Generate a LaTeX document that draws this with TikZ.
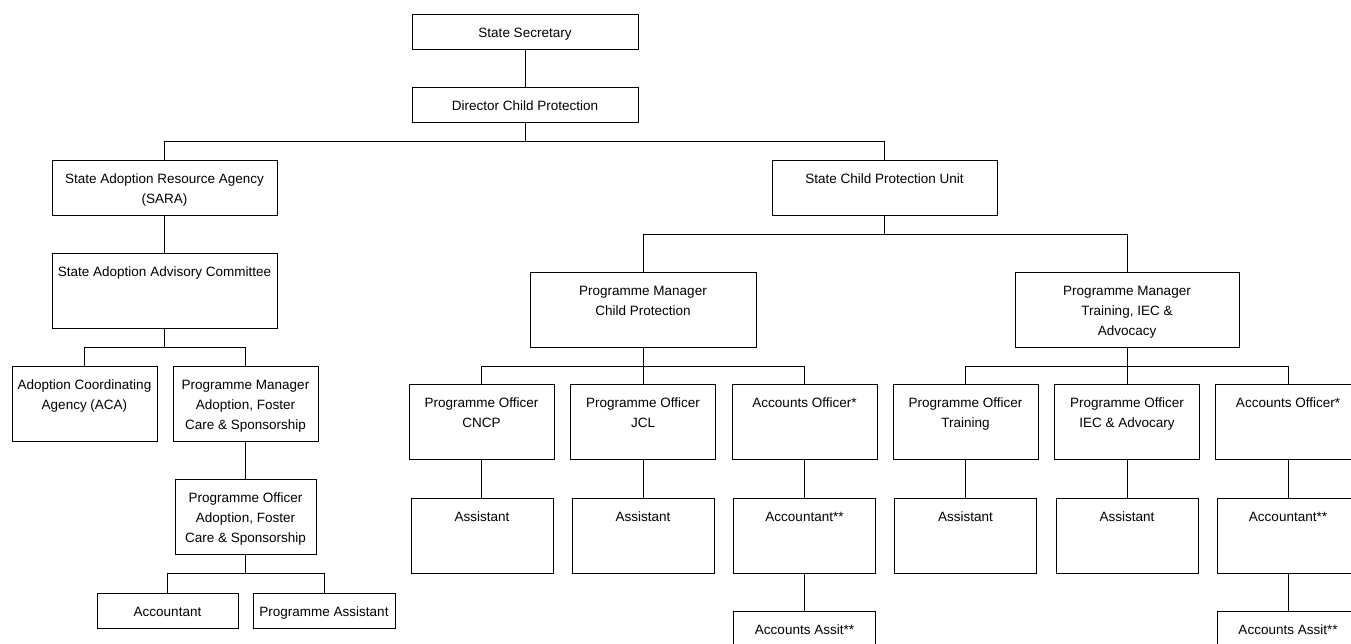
\documentclass[tikz,border=0pt]{standalone}
\usepackage{fontspec}
\setmainfont{Liberation Sans}
\usepackage{tikz}
\usetikzlibrary{positioning}
\usepackage{xcolor}
\definecolor{ink}{HTML}{000000}
\newcommand{\role}[3]{\parbox[c][#2pt][t]{#1pt}{\centering\rule{0pt}{23pt}#3}}

\begin{document}
\begin{tikzpicture}[x=1pt,y=-1pt,
  post/.style={draw=ink,line width=1pt,inner sep=0pt,font=\fontsize{13.5}{20}\selectfont},
  link/.style={draw=ink,line width=1pt}]
\useasboundingbox (0,0) rectangle (1351,643);
\clip (0,0) rectangle (1351,643);
\node[post] (sec) at (525,31.5) {\role{226}{35}{State Secretary}};
\node[post] (dir) at (525,104.5) {\role{226}{35}{Director Child Protection}};
\node[post] (sara) at (164.5,187.5) {\role{225}{55}{State Adoption Resource Agency\\(SARA)}};
\node[post] (scpu) at (884.5,187.5) {\role{225}{55}{State Child Protection Unit}};
\node[post] (saac) at (164.5,290.5) {\role{225}{75}{State Adoption Advisory Committee}};
\node[post] (aca) at (84.5,403.5) {\role{145}{75}{Adoption Coordinating\\Agency (ACA)}};
\node[post] (pma) at (245.5,403.5) {\role{145}{75}{Programme Manager\\Adoption, Foster\\Care \& Sponsorship}};
\node[post] (poa) at (245.5,516.5) {\role{141}{75}{Programme Officer\\Adoption, Foster\\Care \& Sponsorship}};
\node[post] (acct) at (167.5,610.5) {\role{141}{35}{Accountant}};
\node[post] (passt) at (324,610.5) {\role{142}{35}{Programme Assistant}};
\node[post] (pmcp) at (643,309.5) {\role{226}{75}{Programme Manager\\Child Protection}};
\node[post] (pmtr) at (1127,309.5) {\role{224}{75}{Programme Manager\\Training, IEC \&\\Advocacy}};
\node[post] (cncp) at (481.5,421.5) {\role{145}{75}{Programme Officer\\CNCP}};
\node[post] (jcl) at (643,421.5) {\role{145}{75}{Programme Officer\\JCL}};
\node[post] (aoa) at (804.5,421.5) {\role{145}{75}{Accounts Officer*}};
\node[post] (potr) at (965.5,421.5) {\role{145}{75}{Programme Officer\\Training}};
\node[post] (poiec) at (1127,421.5) {\role{145}{75}{Programme Officer\\IEC \& Advocary}};
\node[post] (aob) at (1288,421.5) {\role{145}{75}{Accounts Officer*}};
\node[post] (asa) at (482,535.5) {\role{142}{75}{Assistant}};
\node[post] (asb) at (643,535.5) {\role{142}{75}{Assistant}};
\node[post] (acca) at (804.5,535.5) {\role{142}{75}{Accountant**}};
\node[post] (asc) at (965.5,535.5) {\role{142}{75}{Assistant}};
\node[post] (asd) at (1127,535.5) {\role{142}{75}{Assistant}};
\node[post] (accb) at (1288,535.5) {\role{142}{75}{Accountant**}};
\node[post] (aaa) at (804.5,628.5) {\role{142}{35}{Accounts Assit**}};
\node[post] (aab) at (1288,628.5) {\role{142}{35}{Accounts Assit**}};
\draw[link] (sec) -- (dir);
\draw[link] (dir.south) -- ++(0,19) -| (sara.north);
\draw[link] (dir.south) -- ++(0,19) -| (scpu.north);
\draw[link] (sara) -- (saac);
\draw[link] (saac.south) -- ++(0,19) -| (aca.north);
\draw[link] (saac.south) -- ++(0,19) -| (pma.north);
\draw[link] (pma) -- (poa);
\draw[link] (poa.south) -- ++(0,19) -| (acct.north);
\draw[link] (poa.south) -- ++(0,19) -| (passt.north);
\draw[link] (scpu.south) -- ++(0,19) -| (pmcp.north);
\draw[link] (scpu.south) -- ++(0,19) -| (pmtr.north);
\draw[link] (pmcp.south) -- ++(0,19) -| (cncp.north);
\draw[link] (pmcp.south) -- (jcl.north);
\draw[link] (pmcp.south) -- ++(0,19) -| (aoa.north);
\draw[link] (pmtr.south) -- ++(0,19) -| (potr.north);
\draw[link] (pmtr.south) -- (poiec.north);
\draw[link] (pmtr.south) -- ++(0,19) -| (aob.north);
\draw[link] (cncp.south) -- (cncp.south|-asa.north);
\draw[link] (jcl) -- (asb);
\draw[link] (aoa) -- (acca);
\draw[link] (acca) -- (aaa);
\draw[link] (potr) -- (asc);
\draw[link] (poiec) -- (asd);
\draw[link] (aob) -- (accb);
\draw[link] (accb) -- (aab);
\end{tikzpicture}
\end{document}
